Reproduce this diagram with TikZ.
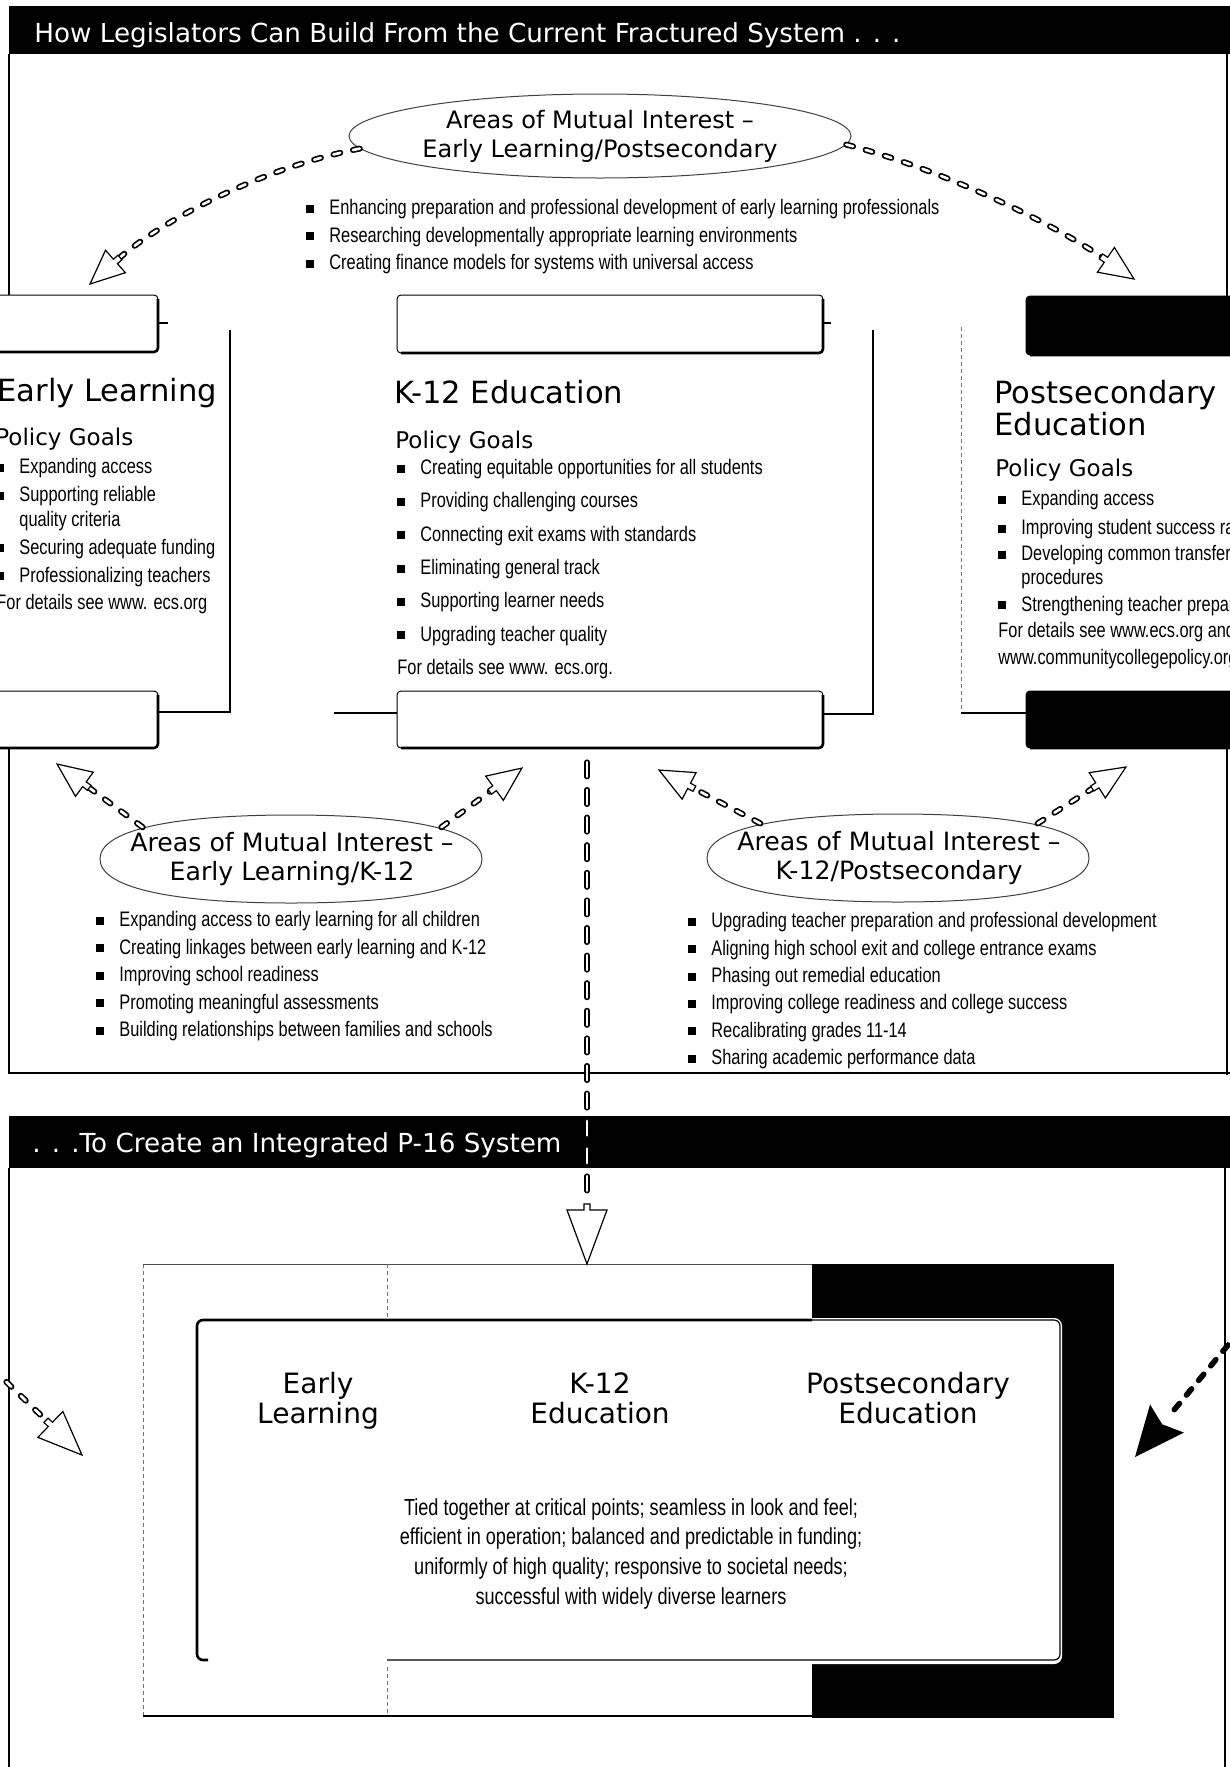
\documentclass[tikz,border=0pt]{standalone}
\usepackage{fontspec}
\setmainfont{Liberation Sans}
\newfontfamily\headfont{DejaVu Sans}
\newfontfamily\narrowfont[FakeStretch=0.78]{Liberation Sans}
\usetikzlibrary{shapes.geometric,decorations.markings}

\newcommand\sq{\makebox[11.5pt][l]{\rule[0.9pt]{4pt}{4pt}}}
\newcommand\hang{\hspace*{11.5pt}}
\def\capbox[#1](#2,#3)(#4,#5){\draw[capedge,#1] (#2,#3) rectangle (#4,#5);
  \draw[capshade] (#4,#3+4) -- (#4,#5) -- (#2+4,#5);}
% squarish oval round (cx,cy) with radii (rx,ry)
\def\oval(#1,#2)(#3,#4){\draw[ovalline] (#1-#3,#2)
  .. controls (#1-#3,#2-0.64*#4) and (#1-0.64*#3,#2-#4) .. (#1,#2-#4)
  .. controls (#1+0.64*#3,#2-#4) and (#1+#3,#2-0.64*#4) .. (#1+#3,#2)
  .. controls (#1+#3,#2+0.64*#4) and (#1+0.64*#3,#2+#4) .. (#1,#2+#4)
  .. controls (#1-0.64*#3,#2+#4) and (#1-#3,#2+0.64*#4) .. (#1-#3,#2) -- cycle;}

\tikzset{
  banner/.style={fill=black},
  bannertext/.style={text=white, inner sep=0pt, anchor=base west, font=\headfont\fontsize{13.1}{15}\selectfont},
  frame/.style={line width=0.9pt},
  colline/.style={line width=0.7pt},
  dotline/.style={black!55, line width=0.4pt, dash pattern=on 2pt off 1.5pt},
  capedge/.style={line width=0.5pt, rounded corners=2pt, fill=white},
  capshade/.style={line width=1.3pt, rounded corners=2pt},
  ovalline/.style={draw=black!75, line width=0.5pt},
  areaell/.style={ellipse, draw=black!75, line width=0.5pt, inner xsep=-25pt, inner ysep=-6pt, align=center,
    font=\headfont\fontsize{12}{14.5}\selectfont},
  coltitle/.style={inner sep=0pt, anchor=base west, font=\headfont\fontsize{15.3}{14.5}\selectfont},
  goals/.style={inner sep=0pt, anchor=base west, font=\headfont\fontsize{11.5}{13}\selectfont},
  bullist/.style={inner sep=0pt, anchor=north west, align=left, font=\narrowfont\fontsize{10.5}{#1}\selectfont},
  bullist/.default=13.75pt,
  p16title/.style={inner sep=0pt, anchor=north, align=center, font=\headfont\fontsize{14}{15}\selectfont},
  p16text/.style={inner sep=0pt, anchor=north, align=center, font=\narrowfont\fontsize{11.6}{14.85}\selectfont},
  chainarc/.style={line width=3pt, line cap=round, dash pattern=on 3.5pt off 6.5pt, shorten >=19pt,
    postaction={draw=white, line width=1.3pt}},
  chaindown/.style={line width=2.6pt, line cap=round, dash pattern=on 7.4pt off 6.4pt, shorten >=31pt,
    postaction={draw=white, line width=1.1pt}},
  chainblack/.style={line width=2.8pt, line cap=round, dash pattern=on 4pt off 5.5pt, shorten >=27pt},
  headopen/.style 2 args={postaction={decorate, decoration={markings, mark=at position 1 with
    {\draw[solid, black, fill=white, line width=0.6pt, line join=miter, shorten >=0pt, shorten <=0pt]
      (0pt,0pt) -- (-#1,0.5*#2) -- (-#1,1.5pt) -- (-#1-3pt,1.5pt) -- (-#1-3pt,-1.5pt)
      -- (-#1,-1.5pt) -- (-#1,-0.5*#2) -- cycle;}}}},
  headfill/.style 2 args={postaction={decorate, decoration={markings, mark=at position 1 with
    {\fill[black, shorten >=0pt, shorten <=0pt]
      (0pt,0pt) -- (-#1,0.5*#2) -- (-0.85*#1,0pt) -- (-#1,-0.5*#2) -- cycle;}}}}
}

\begin{document}
\begin{tikzpicture}[x=0.5pt,y=-0.5pt]
  \useasboundingbox (0,0) rectangle (1230,1767);
  \clip (0,0) rectangle (1230,1767);

  %%%%% FRACTURED SYSTEM %%%%%
  \fill[banner] (9,6) rectangle (1240,54);
  \node[bannertext] (title) at (34,42) {How Legislators Can Build From the Current Fractured System . . .};
  \draw[frame] (9,54) -- (9,296);
  \draw[frame] (1227,54) -- (1227,297);

  \node[areaell, minimum width=251pt, minimum height=42pt] (elps) at (600,136)
    {Areas of Mutual Interest –\\Early Learning/Postsecondary};
  \node[bullist] (elpslist) at (306,199)
    {\sq Enhancing preparation and professional development of early learning professionals\\
     \sq Researching developmentally appropriate learning environments\\
     \sq Creating finance models for systems with universal access};

  % early learning
  \capbox[](-10,295)(158,352)
  \draw[colline] (158,323) -- (168,323);
  \draw[colline] (230,330) -- (230,712) -- (158,712);
  \capbox[](-10,691)(158,748)
  \node[coltitle] (eltitle) at (-3,401) {Early Learning};
  \node[goals] (elgoal) at (-5,445) {Policy Goals};
  \node[bullist=13.9pt] (ellist) at (-4,458)
    {\sq Expanding access\\
     \sq Supporting reliable\\[-1.4pt]
     \hang quality criteria\\
     \sq Securing adequate funding\\
     \sq Professionalizing teachers\\
     For details see www. ecs.org};

  % k-12
  \capbox[](397,295)(823,353)
  \draw[colline] (823,323) -- (831,323);
  \draw[colline] (873,330) -- (873,714) -- (823,714);
  \draw[colline] (334,713) -- (397,713);
  \capbox[](397,691)(823,748)
  \node[coltitle] (k12title) at (394,403) {K-12 Education};
  \node[goals] (k12goal) at (395,448) {Policy Goals};
  \node[bullist=16.65pt] (k12list) at (397,459)
    {\sq Creating equitable opportunities for all students\\
     \sq Providing challenging courses\\
     \sq Connecting exit exams with standards\\
     \sq Eliminating general track\\
     \sq Supporting learner needs\\
     \sq Upgrading teacher quality\\
     For details see www. ecs.org.};

  % postsecondary
  \capbox[fill=black](1026,296)(1245,355)
  \draw[dotline] (961,327) -- (961,713);
  \draw[colline] (961,713) -- (1026,713);
  \capbox[fill=black](1026,691)(1245,748)
  \node[coltitle, anchor=north west, align=left] (pstitle) at (994,380) {Postsecondary\\Education};
  \node[goals] (psgoal) at (995,476) {Policy Goals};
  \node[bullist=13.2pt] (pslist) at (998,490)
    {\sq Expanding access\\[1.2pt]
     \sq Improving student success rates\\
     \sq Developing common transfer\\[-1.2pt]
     \hang procedures\\
     \sq Strengthening teacher preparation\\
     For details see www.ecs.org and\\
     www.communitycollegepolicy.org};

  % shared areas
  \draw[frame] (9,748) -- (9,1073) -- (1240,1073);
  \draw[frame] (1227,748) -- (1227,1075);
  \oval(291,859)(191,44)
  \oval(898,858)(191,44)
  \node[areaell, draw=none, minimum width=197pt, minimum height=48pt, font=\headfont\fontsize{12.6}{14.8}\selectfont]
    (elk) at (292,859) {Areas of Mutual Interest –\\Early Learning/K-12};
  \node[areaell, draw=none, minimum width=197pt, minimum height=48pt, font=\headfont\fontsize{12.6}{14.8}\selectfont]
    (kps) at (899,858) {Areas of Mutual Interest –\\K-12/Postsecondary};
  \node[bullist] (elklist) at (96,911)
    {\sq Expanding access to early learning for all children\\
     \sq Creating linkages between early learning and K-12\\
     \sq Improving school readiness\\
     \sq Promoting meaningful assessments\\
     \sq Building relationships between families and schools};
  \node[bullist=13.7pt] (kpslist) at (688,912)
    {\sq Upgrading teacher preparation and professional development\\
     \sq Aligning high school exit and college entrance exams\\
     \sq Phasing out remedial education\\
     \sq Improving college readiness and college success\\
     \sq Recalibrating grades 11-14\\
     \sq Sharing academic performance data};

  %%%%% INTEGRATED P-16 %%%%%
  \fill[banner] (9,1116) rectangle (1240,1168);
  \node[bannertext] (title2) at (32,1152) {. . .To Create an Integrated P-16 System};
  \draw[frame] (9,1168) -- (9,1770);
  \draw[frame] (1225,1168) -- (1225,1770);

  \fill[black] (812,1264) rectangle (1114,1718);
  \draw[dotline] (143,1264) -- (143,1716);
  \draw[black!70, line width=0.5pt] (143,1264) -- (812,1264);
  \draw[line width=0.9pt] (143,1716) -- (812,1716);
  \draw[dotline] (387,1264) -- (387,1321);
  \draw[dotline] (387,1660) -- (387,1716);
  \fill[white, rounded corners=3pt] (197,1320) rectangle (1060,1662);
  \draw[white, line width=2pt, rounded corners=3pt] (197,1320) rectangle (1060,1662);
  \draw[line width=0.6pt, rounded corners=3pt] (387,1660) -- (1060,1660) -- (1060,1320) -- (700,1320);
  \draw[line width=1.3pt, rounded corners=3pt] (208,1660) -- (197,1660) -- (197,1320) -- (812,1320);

  \node[p16title] (p16el) at (318,1372) {Early\\Learning};
  \node[p16title] (p16k) at (600,1372) {K-12\\Education};
  \node[p16title] (p16ps) at (908,1372) {Postsecondary\\Education};
  \node[p16text] (p16note) at (631,1498)
    {Tied together at critical points; seamless in look and feel;\\
     efficient in operation; balanced and predictable in funding;\\
     uniformly of high quality; responsive to societal needs;\\
     successful with widely diverse learners};

  %%%%% LINKS %%%%%
  \coordinate (tipL) at (90,284);
  \coordinate (tipR) at (1134,279);
  \coordinate (tipA) at (57,764);
  \coordinate (tipB) at (522,768);
  \coordinate (tipC) at (659,770);
  \coordinate (tipD) at (1126,767);
  \coordinate (downTop) at (587,762);
  \coordinate (downTip) at (587,1264);
  \coordinate (fromL) at (-8,1368);
  \coordinate (tipPL) at (82,1455);
  \coordinate (fromR) at (1228,1345);
  \coordinate (tipPR) at (1135,1457);

  \draw[chainarc, headopen={17pt}{15pt}] (elps.183) .. controls (260,168) and (160,222) .. (tipL);
  \draw[chainarc, headopen={17pt}{15pt}] (elps.-2) .. controls (945,170) and (1055,225) .. (tipR);
  \draw[chainarc, headopen={17pt}{15pt}] (elk.168) -- (tipA);
  \draw[chainarc, headopen={17pt}{15pt}] (elk.12) -- (tipB);
  \draw[chainarc, headopen={17pt}{15pt}] (kps.166) -- (tipC);
  \draw[chainarc, headopen={17pt}{15pt}] (kps.14) -- (tipD);
  \draw[chaindown, headopen={27pt}{20pt}] (downTop) -- (downTip);
  \draw[chainarc, shorten >=26pt, headopen={22pt}{18pt}] (fromL) -- (tipPL);
  \draw[chainblack, headfill={25pt}{22pt}] (fromR) -- (tipPR);
\end{tikzpicture}
\end{document}
